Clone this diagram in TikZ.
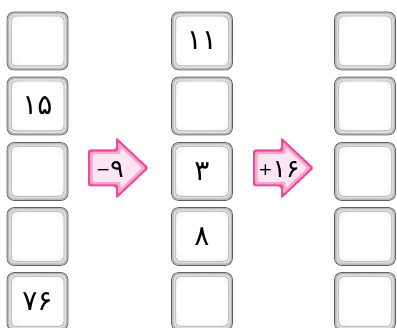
\documentclass[tikz,border=0pt]{standalone}
\usepackage{fontspec}
\newfontfamily\fa{DejaVu Sans}
\newcommand\bigdig[1]{{\fontsize{25}{27}\selectfont #1}}
\newcommand\opsign[1]{\raisebox{2.5pt}{\fontsize{17}{18}\selectfont #1}}
\definecolor{pkout}{HTML}{EC4C9C}
\definecolor{pkmid}{HTML}{F6A6CC}
\definecolor{pkin}{HTML}{FDE6F1}
\pgfdeclareradialshading{boxshade}{\pgfpoint{0bp}{0bp}}{color(0bp)=(white); color(26bp)=(white); color(40bp)=(gray!15); color(50bp)=(gray!42); color(72bp)=(gray!55)}
\tikzset{
  numbox/.style={rectangle, rounded corners=7pt, minimum width=61pt, minimum height=58pt,
    inner sep=0pt, fill=gray!55, draw=gray!75!black, line width=0.6pt,
    font=\fa\fontsize{28}{30}\selectfont,
    path picture={
      \fill[gray!25, rounded corners=5.5pt]
        ([shift={(2pt,2pt)}]path picture bounding box.south west) rectangle
        ([shift={(-2pt,-2pt)}]path picture bounding box.north east);
      \shade[shading=boxshade, rounded corners=4pt, draw=gray!65, line width=0.6pt]
        ([shift={(4.2pt,4.2pt)}]path picture bounding box.south west) rectangle
        ([shift={(-4.2pt,-4.2pt)}]path picture bounding box.north east);
    }},
  oplabel/.style={inner sep=0pt, font=\fa},
  pinkarrow/.pic={
    \fill[pkout, rounded corners=2.5pt] (0,-18.5) -- (28,-18.5) -- (28,-31) -- (61,0) -- (28,31) -- (28,18.5) -- (0,18.5) -- cycle;
    \fill[pkmid, rounded corners=2pt] (2.2,-16.3) -- (30.2,-16.3) -- (30.2,-26) -- (57.8,0) -- (30.2,26) -- (30.2,16.3) -- (2.2,16.3) -- cycle;
    \fill[pkin, rounded corners=2pt] (4.5,-13.8) -- (32.5,-13.8) -- (32.5,-20.5) -- (54,0) -- (32.5,20.5) -- (32.5,13.8) -- (4.5,13.8) -- cycle;
  }
}
\begin{document}
\begin{tikzpicture}[x=1pt,y=-1pt]
\useasboundingbox (0,0) rectangle (397,328);
% column 1
\node[numbox] (a1) at (37.5,41) {};
\node[numbox] (a2) at (37.5,106) {۱۵};
\node[numbox] (a3) at (37.5,171.5) {};
\node[numbox] (a4) at (37.5,236.5) {};
\node[numbox] (a5) at (37.5,301.5) {۷۶};
% column 2
\node[numbox] (b1) at (202,41) {۱۱};
\node[numbox] (b2) at (202,106) {};
\node[numbox] (b3) at (202,171.5) {۳};
\node[numbox] (b4) at (202,236.5) {۸};
\node[numbox] (b5) at (202,301.5) {};
% column 3
\node[numbox] (c1) at (365,41) {};
\node[numbox] (c2) at (365,106) {};
\node[numbox] (c3) at (365,171.5) {};
\node[numbox] (c4) at (365,236.5) {};
\node[numbox] (c5) at (365,301.5) {};
% arrows
\pic at (88,168) {pinkarrow};
\node[oplabel] (op1) at (110,170) {\opsign{−}\bigdig{۹}};
\pic at (253,168) {pinkarrow};
\node[oplabel] (op2) at (279,170) {\opsign{+}\bigdig{۱۶}};
\end{tikzpicture}
\end{document}
